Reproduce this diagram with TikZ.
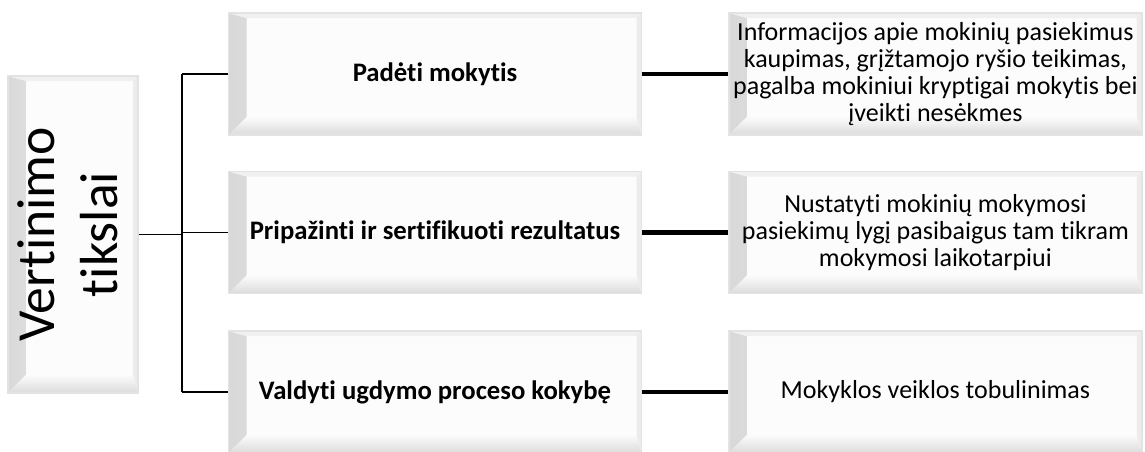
\documentclass[tikz,border=0pt]{standalone}
\usepackage{fontspec}
\setmainfont{Carlito}[Ligatures=NoCommon]
\usetikzlibrary{positioning}

\newcommand\bevw{0.36}
\newcommand\bevt{0.1}

\tikzset{
  bevel/.style={path picture={
    \shade[left color=gray!30, right color=gray!3]
      (path picture bounding box.north west) -- (path picture bounding box.south west)
      -- ([shift={(\bevw,\bevw)}]path picture bounding box.south west)
      -- ([shift={(\bevw,-\bevt)}]path picture bounding box.north west) -- cycle;
    \shade[top color=gray!3, bottom color=gray!28]
      (path picture bounding box.south west) -- (path picture bounding box.south east)
      -- ([shift={(-\bevt,\bevw)}]path picture bounding box.south east)
      -- ([shift={(\bevw,\bevw)}]path picture bounding box.south west) -- cycle;
    \fill[gray!12]
      (path picture bounding box.north west) -- (path picture bounding box.north east)
      -- ([shift={(-\bevt,-\bevt)}]path picture bounding box.north east)
      -- ([shift={(\bevw,-\bevt)}]path picture bounding box.north west) -- cycle;
    \fill[gray!15]
      (path picture bounding box.north east) -- (path picture bounding box.south east)
      -- ([shift={(-\bevt,\bevw)}]path picture bounding box.south east)
      -- ([shift={(-\bevt,-\bevt)}]path picture bounding box.north east) -- cycle;
  }},
  box/.style={draw=gray!22, line width=0.8pt, fill=gray!2, bevel, inner sep=1pt,
    minimum width=8.26cm, minimum height=2.44cm, align=center},
  aimbox/.style={box, font=\bfseries\fontsize{15.2}{17}\selectfont},
  deedbox/.style={box, font=\fontsize{14.8}{15.2}\selectfont},
  thin/.style={line width=1.1pt},
  thick link/.style={line width=2.4pt}
}

\begin{document}
\begin{tikzpicture}
  \useasboundingbox (0,0) rectangle (22.9,-9.02);

  % left box
  \node[box, minimum width=2.42cm, minimum height=6.34cm,
        font=\fontsize{30.5}{36}\selectfont] (goal) at (1.46,-4.69)
    {\rotatebox{90}{\begin{tabular}{@{}c@{}}Vertinimo\\tikslai\end{tabular}}};

  % middle column
  \node[aimbox] (help) at (8.7,-1.48) {Padėti mokytis};
  \node[aimbox] (cert) at (8.7,-4.65) {Pripažinti ir sertifikuoti rezultatus};
  \node[aimbox] (qual) at (8.7,-7.84) {Valdyti ugdymo proceso kokybę};

  % right column
  \node[deedbox, right=1.72cm of help] (info)
    {Informacijos apie mokinių pasiekimus\\
     kaupimas, grįžtamojo ryšio teikimas,\\
     pagalba mokiniui kryptigai mokytis bei\\
     įveikti nesėkmes};
  \node[deedbox, right=1.72cm of cert] (level)
    {Nustatyti mokinių mokymosi\\
     pasiekimų lygį pasibaigus tam tikram\\
     mokymosi laikotarpiui};
  \node[deedbox, right=1.72cm of qual] (school) {Mokyklos veiklos tobulinimas};

  % tree
  \draw[thin] (goal.east) -- ++(0.86,0) coordinate (trunk);
  \draw[thin] (help.west -| trunk) -- (qual.west -| trunk);
  \foreach \n in {help,cert,qual}
    \draw[thin] (\n.west -| trunk) -- (\n.west);

  % links
  \draw[thick link] (help) -- (info);
  \draw[thick link] (cert) -- (level);
  \draw[thick link] (qual) -- (school);
\end{tikzpicture}
\end{document}
